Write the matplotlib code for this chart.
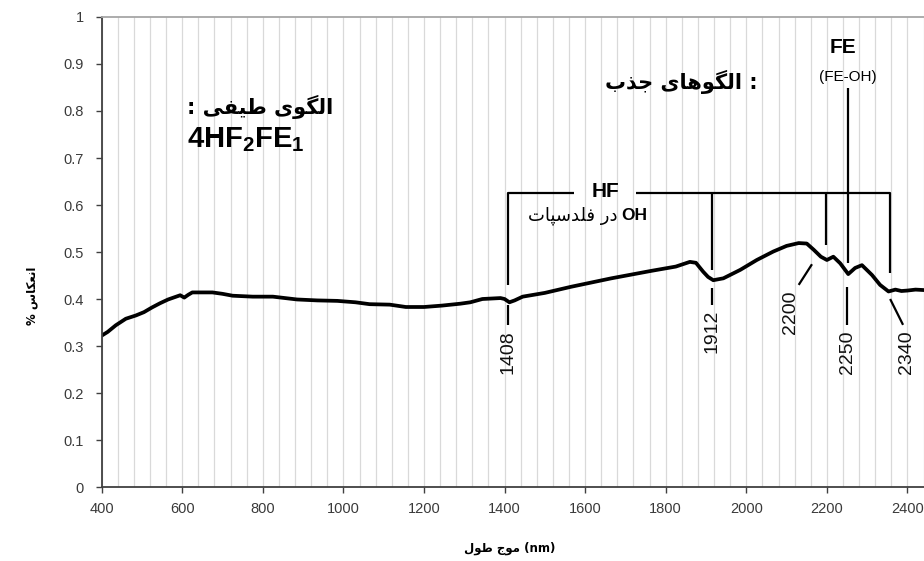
import matplotlib
matplotlib.use('Agg')
import matplotlib.pyplot as plt
from matplotlib.ticker import MultipleLocator, FuncFormatter

# spectrum (nm, reflectance)
wavelength = [400, 415, 435, 460, 485, 505, 525, 545, 565, 585, 595, 605, 615, 625,
              650, 675, 700, 725, 775, 825, 885, 935, 985, 1030, 1065, 1115, 1155,
              1200, 1245, 1290, 1315, 1345, 1390, 1400, 1412, 1425, 1445, 1500, 1565,
              1615, 1665, 1715, 1765, 1825, 1860, 1875, 1893, 1905, 1918, 1943, 1985,
              2026, 2067, 2100, 2130, 2150, 2167, 2185, 2200, 2216, 2233, 2253, 2270,
              2287, 2312, 2332, 2353, 2370, 2385, 2400, 2420, 2441]
reflectance = [0.322, 0.330, 0.344, 0.358, 0.365, 0.372, 0.382, 0.391, 0.399, 0.405,
               0.408, 0.403, 0.409, 0.414, 0.414, 0.414, 0.411, 0.407, 0.405, 0.405,
               0.399, 0.397, 0.396, 0.393, 0.389, 0.388, 0.383, 0.383, 0.386, 0.390,
               0.393, 0.400, 0.402, 0.400, 0.393, 0.397, 0.405, 0.413, 0.426, 0.435,
               0.444, 0.452, 0.460, 0.469, 0.479, 0.477, 0.458, 0.447, 0.440, 0.444,
               0.462, 0.483, 0.501, 0.513, 0.519, 0.518, 0.505, 0.490, 0.483, 0.490,
               0.476, 0.453, 0.466, 0.472, 0.451, 0.430, 0.416, 0.420, 0.417, 0.418,
               0.420, 0.419]

feature_labels = ['1408', '1912', '2200', '2250', '2340']

# minimal Persian shaping (matplotlib has no bidi / joining)
FORMS = {
    'ا': (0xFE8D, 0xFE8E), 'د': (0xFEA9, 0xFEAA), 'ذ': (0xFEAB, 0xFEAC),
    'ر': (0xFEAD, 0xFEAE), 'و': (0xFEED, 0xFEEE),
    'ب': (0xFE8F, 0xFE90, 0xFE91, 0xFE92), 'ت': (0xFE95, 0xFE96, 0xFE97, 0xFE98),
    'ج': (0xFE9D, 0xFE9E, 0xFE9F, 0xFEA0), 'س': (0xFEB1, 0xFEB2, 0xFEB3, 0xFEB4),
    'ط': (0xFEC1, 0xFEC2, 0xFEC3, 0xFEC4), 'ع': (0xFEC9, 0xFECA, 0xFECB, 0xFECC),
    'ف': (0xFED1, 0xFED2, 0xFED3, 0xFED4), 'ل': (0xFEDD, 0xFEDE, 0xFEDF, 0xFEE0),
    'م': (0xFEE1, 0xFEE2, 0xFEE3, 0xFEE4), 'ن': (0xFEE5, 0xFEE6, 0xFEE7, 0xFEE8),
    'ه': (0xFEE9, 0xFEEA, 0xFEEB, 0xFEEC), 'پ': (0xFB56, 0xFB57, 0xFB58, 0xFB59),
    'ک': (0xFB8E, 0xFB8F, 0xFB90, 0xFB91), 'گ': (0xFB92, 0xFB93, 0xFB94, 0xFB95),
    'ی': (0xFBFC, 0xFBFD, 0xFBFE, 0xFBFF),
}


def fa(text):
    out = []
    for i, ch in enumerate(text):
        f = FORMS.get(ch)
        if f is None:
            out.append(ch)
            continue
        prev = text[i - 1] if i > 0 else ''
        nxt = text[i + 1] if i + 1 < len(text) else ''
        jp = prev in FORMS and len(FORMS[prev]) == 4
        jn = len(f) == 4 and nxt in FORMS
        k = 3 if (jp and jn) else 1 if jp else 2 if jn else 0
        out.append(chr(f[k]))
    return ''.join(reversed(out))


LAT = ['Liberation Sans', 'DejaVu Sans']
PER = ['DejaVu Sans']
plt.rcParams['mathtext.fontset'] = 'custom'
plt.rcParams['mathtext.bf'] = 'Liberation Sans:bold'
plt.rcParams['mathtext.rm'] = 'Liberation Sans:bold'

fig = plt.figure(figsize=(9.24, 5.61), dpi=100)
ax = fig.add_axes([0.110, 0.1319, 0.890, 0.8378])

ax.plot(wavelength, reflectance, color='black', lw=2.7, solid_capstyle='round')

ax.set_xlim(400, 2441)
ax.set_ylim(0, 1)
ax.xaxis.set_major_locator(MultipleLocator(200))
ax.xaxis.set_minor_locator(MultipleLocator(40))
ax.yaxis.set_major_locator(MultipleLocator(0.1))
ax.yaxis.set_major_formatter(FuncFormatter(lambda v, p: f'{v:g}'))
ax.grid(which='both', axis='x', color='#d9d9d9', lw=0.9)
ax.set_axisbelow(True)
ax.tick_params(which='major', direction='out', length=4, width=1, color='#404040',
               labelsize=10.5, labelcolor='#3a3a3a')
ax.tick_params(axis='x', pad=7)
ax.tick_params(axis='y', pad=9)
ax.tick_params(which='minor', length=0)
for lab in ax.get_xticklabels() + ax.get_yticklabels():
    lab.set_family(LAT)
for s in ['left', 'bottom']:
    ax.spines[s].set_color('#404040')
    ax.spines[s].set_linewidth(1.3)
ax.spines['top'].set_color('#a6a6a6')
ax.spines['top'].set_linewidth(1.3)
ax.spines['right'].set_visible(False)

lk = dict(color='black', lw=1.6, solid_capstyle='butt')
# HF bracket
ax.plot([1408, 1408, 1572], [0.43, 0.626, 0.626], **lk)
ax.plot([1727, 2357, 2357], [0.626, 0.626, 0.455], **lk)
ax.plot([1915, 1915], [0.626, 0.462], **lk)
ax.plot([2198, 2198], [0.626, 0.515], **lk)
# FE line
ax.plot([2253, 2253], [0.849, 0.477], **lk)

# leaders under the curve
ax.plot([1408, 1408], [0.387, 0.345], **lk)
ax.plot([1915, 1915], [0.423, 0.387], **lk)
ax.plot([2163, 2130], [0.474, 0.430], **lk)
ax.plot([2251, 2251], [0.426, 0.345], **lk)
ax.plot([2357, 2389], [0.400, 0.345], **lk)

label_pos = [(1408, 0.334), (1915, 0.377), (2109, 0.419), (2251, 0.334), (2397, 0.334)]
for lab, (x, y) in zip(feature_labels, label_pos):
    ax.text(x, y, lab, rotation=90, ha='center', va='top', fontsize=14,
            family=LAT, color='#111111')

ax.text(1650, 0.628, 'HF', ha='center', va='center', fontsize=15,
        fontweight='bold', family=LAT)
ax.text(1680, 0.578, fa('در فلدسپات'), ha='right', va='center', fontsize=13,
        family=PER)
ax.text(1690, 0.578, 'OH', ha='left', va='center', fontsize=12.5,
        fontweight='bold', family=LAT)
ax.text(2241, 0.936, 'FE', ha='center', va='center', fontsize=15,
        fontweight='bold', family=LAT)
ax.text(2253, 0.872, '(FE-OH)', ha='center', va='center', fontsize=11, family=LAT)
ax.text(1838, 0.862, fa(': الگوهای جذب'), ha='center', va='center', fontsize=15,
        fontweight='bold', family=PER)

ax.text(793, 0.808, fa('الگوی طیفی :'), ha='center', va='center', fontsize=15,
        fontweight='bold', family=PER)
ax.text(612, 0.740, r'4HF$_{\mathbf{2}}$FE$_{\mathbf{1}}$', ha='left', va='center',
        fontsize=21, fontweight='bold', family=LAT)

fig.text(510 / 924, 1 - 548 / 561, fa('طول') + ' ' + fa('موج') + ' (nm)',
         ha='center', va='center', fontsize=8.5, fontweight='bold', family=PER)
fig.text(32 / 924, 1 - 296 / 561, '% ' + fa('انعکاس'), rotation=90,
         ha='center', va='center', fontsize=8.5, fontweight='bold', family=PER)

fig.savefig('out.png', dpi=100, facecolor='white')
